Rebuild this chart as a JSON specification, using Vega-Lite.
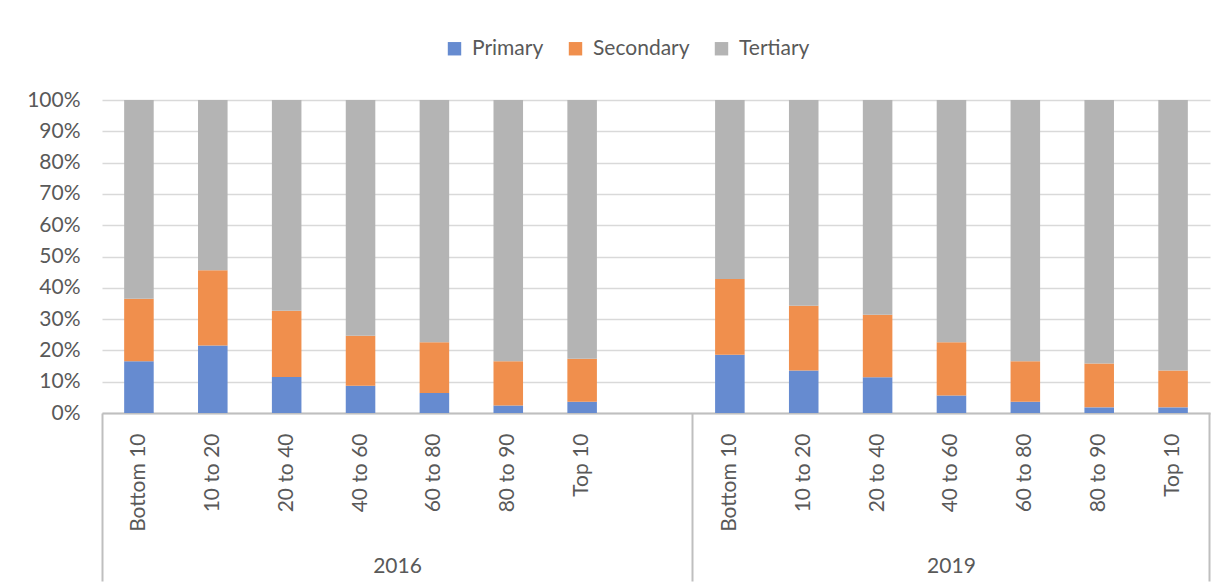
{
  "$schema": "https://vega.github.io/schema/vega-lite/v6.json",
  "width": 1108,
  "height": 313,
  "autosize": {"type": "none"},
  "padding": {"left": 102, "top": 100, "right": 13, "bottom": 173},
  "background": "white",
  "config": {
    "view": {"stroke": null},
    "font": "Lato",
    "axis": {"labelFont": "Lato", "labelColor": "#595959", "labelFontSize": 21, "title": null}
  },
  "data": {
    "values": [
      {"slot": "2016|Bottom 10", "year": "2016", "group": "Bottom 10", "level": "Primary", "share": 16.5},
      {"slot": "2016|Bottom 10", "year": "2016", "group": "Bottom 10", "level": "Secondary", "share": 20.0},
      {"slot": "2016|Bottom 10", "year": "2016", "group": "Bottom 10", "level": "Tertiary", "share": 63.5},
      {"slot": "2016|10 to 20", "year": "2016", "group": "10 to 20", "level": "Primary", "share": 21.6},
      {"slot": "2016|10 to 20", "year": "2016", "group": "10 to 20", "level": "Secondary", "share": 24.0},
      {"slot": "2016|10 to 20", "year": "2016", "group": "10 to 20", "level": "Tertiary", "share": 54.4},
      {"slot": "2016|20 to 40", "year": "2016", "group": "20 to 40", "level": "Primary", "share": 11.5},
      {"slot": "2016|20 to 40", "year": "2016", "group": "20 to 40", "level": "Secondary", "share": 21.2},
      {"slot": "2016|20 to 40", "year": "2016", "group": "20 to 40", "level": "Tertiary", "share": 67.3},
      {"slot": "2016|40 to 60", "year": "2016", "group": "40 to 60", "level": "Primary", "share": 8.7},
      {"slot": "2016|40 to 60", "year": "2016", "group": "40 to 60", "level": "Secondary", "share": 16.0},
      {"slot": "2016|40 to 60", "year": "2016", "group": "40 to 60", "level": "Tertiary", "share": 75.3},
      {"slot": "2016|60 to 80", "year": "2016", "group": "60 to 80", "level": "Primary", "share": 6.4},
      {"slot": "2016|60 to 80", "year": "2016", "group": "60 to 80", "level": "Secondary", "share": 16.2},
      {"slot": "2016|60 to 80", "year": "2016", "group": "60 to 80", "level": "Tertiary", "share": 77.4},
      {"slot": "2016|80 to 90", "year": "2016", "group": "80 to 90", "level": "Primary", "share": 2.4},
      {"slot": "2016|80 to 90", "year": "2016", "group": "80 to 90", "level": "Secondary", "share": 14.1},
      {"slot": "2016|80 to 90", "year": "2016", "group": "80 to 90", "level": "Tertiary", "share": 83.5},
      {"slot": "2016|Top 10", "year": "2016", "group": "Top 10", "level": "Primary", "share": 3.6},
      {"slot": "2016|Top 10", "year": "2016", "group": "Top 10", "level": "Secondary", "share": 13.7},
      {"slot": "2016|Top 10", "year": "2016", "group": "Top 10", "level": "Tertiary", "share": 82.7},
      {"slot": "2019|Bottom 10", "year": "2019", "group": "Bottom 10", "level": "Primary", "share": 18.6},
      {"slot": "2019|Bottom 10", "year": "2019", "group": "Bottom 10", "level": "Secondary", "share": 24.2},
      {"slot": "2019|Bottom 10", "year": "2019", "group": "Bottom 10", "level": "Tertiary", "share": 57.2},
      {"slot": "2019|10 to 20", "year": "2019", "group": "10 to 20", "level": "Primary", "share": 13.6},
      {"slot": "2019|10 to 20", "year": "2019", "group": "10 to 20", "level": "Secondary", "share": 20.7},
      {"slot": "2019|10 to 20", "year": "2019", "group": "10 to 20", "level": "Tertiary", "share": 65.7},
      {"slot": "2019|20 to 40", "year": "2019", "group": "20 to 40", "level": "Primary", "share": 11.4},
      {"slot": "2019|20 to 40", "year": "2019", "group": "20 to 40", "level": "Secondary", "share": 20.0},
      {"slot": "2019|20 to 40", "year": "2019", "group": "20 to 40", "level": "Tertiary", "share": 68.6},
      {"slot": "2019|40 to 60", "year": "2019", "group": "40 to 60", "level": "Primary", "share": 5.6},
      {"slot": "2019|40 to 60", "year": "2019", "group": "40 to 60", "level": "Secondary", "share": 17.0},
      {"slot": "2019|40 to 60", "year": "2019", "group": "40 to 60", "level": "Tertiary", "share": 77.4},
      {"slot": "2019|60 to 80", "year": "2019", "group": "60 to 80", "level": "Primary", "share": 3.6},
      {"slot": "2019|60 to 80", "year": "2019", "group": "60 to 80", "level": "Secondary", "share": 12.9},
      {"slot": "2019|60 to 80", "year": "2019", "group": "60 to 80", "level": "Tertiary", "share": 83.5},
      {"slot": "2019|80 to 90", "year": "2019", "group": "80 to 90", "level": "Primary", "share": 1.8},
      {"slot": "2019|80 to 90", "year": "2019", "group": "80 to 90", "level": "Secondary", "share": 14.0},
      {"slot": "2019|80 to 90", "year": "2019", "group": "80 to 90", "level": "Tertiary", "share": 84.2},
      {"slot": "2019|Top 10", "year": "2019", "group": "Top 10", "level": "Primary", "share": 1.8},
      {"slot": "2019|Top 10", "year": "2019", "group": "Top 10", "level": "Secondary", "share": 11.8},
      {"slot": "2019|Top 10", "year": "2019", "group": "Top 10", "level": "Tertiary", "share": 86.4}
    ]
  },
  "resolve": {"axis": {"x": "independent"}},
  "layer": [
    {
      "mark": {"type": "bar", "width": {"band": 0.4}},
      "encoding": {
        "x": {
          "field": "slot", "type": "nominal",
          "scale": {"domain": ["2016|Bottom 10", "2016|10 to 20", "2016|20 to 40", "2016|40 to 60", "2016|60 to 80", "2016|80 to 90", "2016|Top 10", "2016|blank", "2019|Bottom 10", "2019|10 to 20", "2019|20 to 40", "2019|40 to 60", "2019|60 to 80", "2019|80 to 90", "2019|Top 10"], "paddingInner": 0, "paddingOuter": 0},
          "axis": {
            "orient": "bottom", "ticks": false, "domain": true, "domainColor": "#bfbfbf", "domainWidth": 2,
            "grid": false, "labelAngle": -90, "labelAlign": "right", "labelBaseline": "middle", "labelPadding": 20,
            "labelOverlap": false, "labelBound": false,
            "labelExpr": "indexof(datum.value, 'blank') >= 0 ? '' : split(datum.value, '|')[1]"
          }
        },
        "y": {
          "field": "share", "type": "quantitative", "stack": "normalize",
          "scale": {"domain": [0, 1]},
          "axis": {
            "orient": "left", "values": [0, 0.1, 0.2, 0.3, 0.4, 0.5, 0.6, 0.7, 0.8, 0.9, 1],
            "format": ".0%", "domain": false, "ticks": false, "grid": true, "gridColor": "#d9d9d9", "gridWidth": 1.4,
            "labelPadding": 22
          }
        },
        "order": {"field": "level", "sort": "ascending"},
        "color": {
          "field": "level", "type": "nominal",
          "scale": {"domain": ["Primary", "Secondary", "Tertiary"], "range": ["#668bd0", "#f08f4d", "#b4b4b4"]},
          "legend": {
            "orient": "none", "legendX": 342, "legendY": -62, "direction": "horizontal", "title": null,
            "symbolType": "square", "symbolSize": 180, "symbolStrokeWidth": 0,
            "labelFontSize": 21, "labelColor": "#595959", "labelFont": "Lato", "columnPadding": 21, "labelOffset": 7
          }
        }
      }
    },
    {
      "mark": {"type": "point", "opacity": 0},
      "encoding": {
        "x": {
          "field": "slot", "type": "nominal",
          "scale": {"domain": ["2016|Bottom 10", "2016|10 to 20", "2016|20 to 40", "2016|40 to 60", "2016|60 to 80", "2016|80 to 90", "2016|Top 10", "2016|blank", "2019|Bottom 10", "2019|10 to 20", "2019|20 to 40", "2019|40 to 60", "2019|60 to 80", "2019|80 to 90", "2019|Top 10"], "paddingInner": 0, "paddingOuter": 0},
          "axis": {
            "orient": "bottom", "values": ["2016|Bottom 10", "2019|Bottom 10"], "bandPosition": 0,
            "labels": false, "domain": false, "grid": false, "ticks": true, "tickSize": 168, "tickColor": "#bfbfbf", "tickWidth": 2
          }
        }
      }
    },
    {
      "mark": {"type": "point", "opacity": 0},
      "encoding": {
        "x": {
          "field": "slot", "type": "nominal",
          "scale": {"domain": ["2016|Bottom 10", "2016|10 to 20", "2016|20 to 40", "2016|40 to 60", "2016|60 to 80", "2016|80 to 90", "2016|Top 10", "2016|blank", "2019|Bottom 10", "2019|10 to 20", "2019|20 to 40", "2019|40 to 60", "2019|60 to 80", "2019|80 to 90", "2019|Top 10"], "paddingInner": 0, "paddingOuter": 0},
          "axis": {
            "orient": "bottom", "values": ["2019|Top 10"], "bandPosition": 1,
            "labels": false, "domain": false, "grid": false, "ticks": true, "tickSize": 168, "tickColor": "#bfbfbf", "tickWidth": 2
          }
        }
      }
    },
    {
      "mark": {"type": "point", "opacity": 0},
      "encoding": {
        "x": {
          "field": "slot", "type": "nominal",
          "scale": {"domain": ["2016|Bottom 10", "2016|10 to 20", "2016|20 to 40", "2016|40 to 60", "2016|60 to 80", "2016|80 to 90", "2016|Top 10", "2016|blank", "2019|Bottom 10", "2019|10 to 20", "2019|20 to 40", "2019|40 to 60", "2019|60 to 80", "2019|80 to 90", "2019|Top 10"], "paddingInner": 0, "paddingOuter": 0},
          "axis": {
            "orient": "bottom", "values": ["2016|40 to 60"], "bandPosition": 0.5,
            "labels": true, "domain": false, "grid": false, "ticks": false, "labelOffset": 37,
            "labelAngle": 0, "labelAlign": "center", "labelBaseline": "top", "labelPadding": 142, "labelExpr": "'2016'"
          }
        }
      }
    },
    {
      "mark": {"type": "point", "opacity": 0},
      "encoding": {
        "x": {
          "field": "slot", "type": "nominal",
          "scale": {"domain": ["2016|Bottom 10", "2016|10 to 20", "2016|20 to 40", "2016|40 to 60", "2016|60 to 80", "2016|80 to 90", "2016|Top 10", "2016|blank", "2019|Bottom 10", "2019|10 to 20", "2019|20 to 40", "2019|40 to 60", "2019|60 to 80", "2019|80 to 90", "2019|Top 10"], "paddingInner": 0, "paddingOuter": 0},
          "axis": {
            "orient": "bottom", "values": ["2019|40 to 60"], "bandPosition": 0.5,
            "labels": true, "domain": false, "grid": false, "ticks": false,
            "labelAngle": 0, "labelAlign": "center", "labelBaseline": "top", "labelPadding": 142, "labelExpr": "'2019'"
          }
        }
      }
    }
  ]
}
